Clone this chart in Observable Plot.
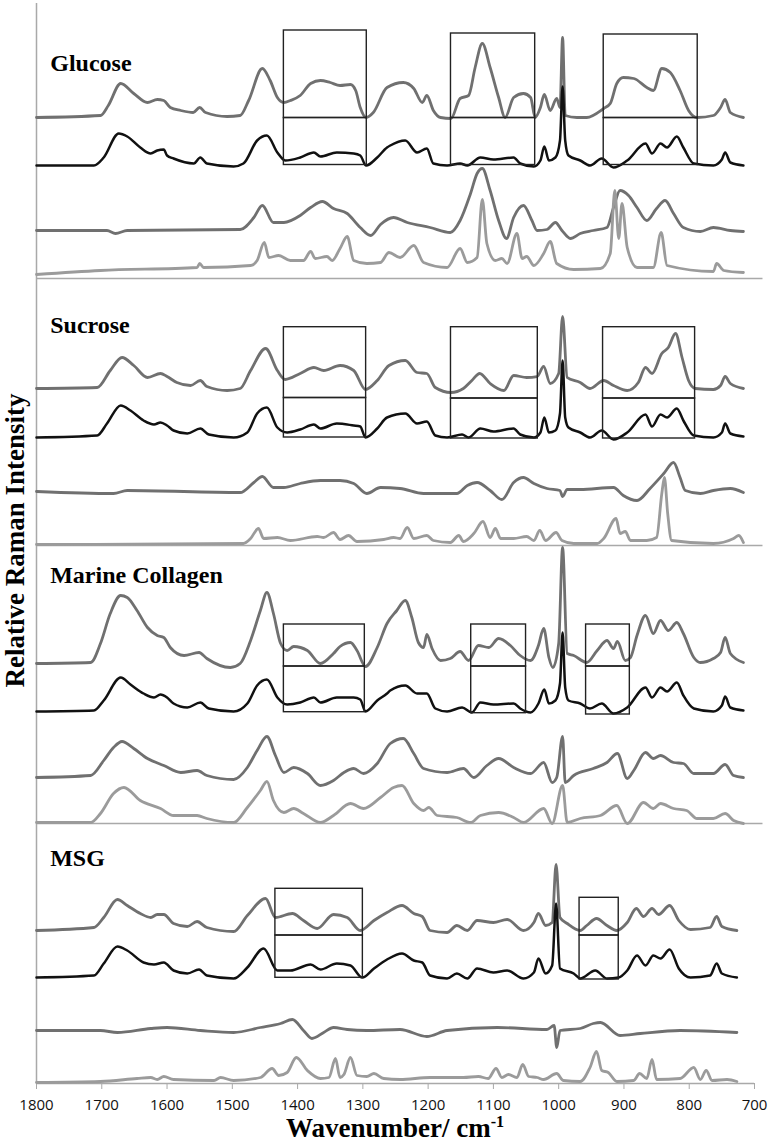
<!DOCTYPE html>
<html><head><meta charset="utf-8">
<script src="https://cdn.jsdelivr.net/npm/d3@7"></script>
<script src="https://cdn.jsdelivr.net/npm/@observablehq/plot@0.6"></script>
<style>
html,body{margin:0;padding:0;background:#fff;}
#wrap{position:relative;width:774px;height:1146px;overflow:hidden;background:#fff;}
#chart{position:absolute;left:0;top:0;}
.ttl{position:absolute;font-family:"Liberation Serif","Times New Roman",serif;font-weight:bold;font-size:27px;line-height:27px;color:#000;white-space:nowrap;}
.ttl sup{font-size:0.6em;line-height:0;vertical-align:0.62em;}
#xt{left:36px;width:718px;text-align:center;top:1115px;}
#yt{left:-285px;width:600px;text-align:center;top:527px;transform:rotate(-90deg);}
</style></head><body>
<div id="wrap"><div id="chart"></div>
<div class="ttl" id="xt">Wavenumber/ cm<sup>-1</sup></div>
<div class="ttl" id="yt">Relative Raman Intensity</div></div>
<script>
// ---------- tick labels / categories ----------
const xTicks = [1800,1700,1600,1500,1400,1300,1200,1100,1000,900,800,700];
const panelNames = ["Glucose","Sucrose","Marine Collagen","MSG"];
const panelLabelY = [1020, 758, 508, 225];
const panelBaseY = [805, 538, 260, 0];
const traceColors = ["#707070","#111111","#707070","#9b9b9b"];

// ---------- stacking offsets of the four spectra in each panel ----------
const glucoseOffsets  = [966, 918, 853, 805];
const sucroseOffsets  = [695, 646, 592, 538];
const collagenOffsets = [420, 372, 306, 260];
const msgOffsets      = [153, 106, 53, 0];

// ---------- spectra: [wavenumber, relative intensity] ----------
const glucoseA = [[1800,0],[1702,2],[1690,12],[1671,34],[1651,24],[1630,15],[1615,18],[1605,17],[1595,10],[1579,7],[1560,5],[1550,10],[1541,5],[1508,1],[1488,2],[1475,17],[1454,49],[1442,37],[1431,20],[1421,15],[1411,17],[1396,22],[1380,34],[1365,37],[1350,35],[1335,32],[1319,33],[1311,27],[1304,10],[1295,0],[1284,5],[1263,30],[1238,35],[1222,29],[1209,15],[1202,22],[1192,7],[1181,0],[1165,-1],[1151,19],[1138,22],[1128,50],[1117,74],[1105,50],[1092,20],[1082,0],[1069,20],[1054,24],[1043,20],[1036,0],[1028,10],[1022,23],[1013,7],[1003,19],[998,10],[994,80],[990,2],[972,0],[957,0],[931,9],[921,14],[911,34],[901,40],[885,39],[865,30],[855,27],[842,49],[829,45],[814,27],[801,7],[788,0],[763,2],[752,10],[745,18],[737,5],[717,0]];
const glucoseB = [[1800,0],[1712,0],[1697,8],[1674,32],[1661,29],[1641,18],[1625,12],[1615,15],[1605,16],[1600,10],[1590,7],[1559,2],[1549,8],[1539,2],[1498,-1],[1483,2],[1462,25],[1447,30],[1431,13],[1419,5],[1396,8],[1375,13],[1365,9],[1340,13],[1314,12],[1304,10],[1295,0],[1278,8],[1263,18],[1258,20],[1235,25],[1217,13],[1202,17],[1192,2],[1171,0],[1151,2],[1140,0],[1120,8],[1100,6],[1069,8],[1059,2],[1038,-1],[1028,5],[1022,19],[1015,5],[1005,8],[998,25],[994,79],[990,25],[985,10],[967,5],[952,0],[934,7],[916,-2],[895,5],[867,22],[857,12],[844,22],[834,18],[819,29],[809,18],[793,2],[763,0],[750,6],[745,13],[737,3],[717,0]];
const glucoseC = [[1800,0],[1692,0],[1679,-3],[1661,0],[1488,1],[1467,13],[1454,25],[1437,8],[1421,8],[1396,15],[1380,23],[1362,29],[1345,22],[1324,17],[1304,3],[1288,-5],[1273,6],[1253,13],[1232,8],[1197,3],[1166,-2],[1151,10],[1135,37],[1125,57],[1117,62],[1105,40],[1092,10],[1080,-8],[1069,13],[1054,25],[1041,10],[1033,0],[1018,1],[1005,8],[995,0],[982,-8],[967,-3],[947,0],[926,3],[916,23],[906,40],[893,35],[880,23],[865,10],[850,22],[837,30],[824,17],[809,3],[783,-1],[763,3],[737,0],[717,-1]];
const glucoseD = [[1800,4],[1702,8],[1554,11],[1550,15],[1544,11],[1472,13],[1462,18],[1451,36],[1444,21],[1429,23],[1411,18],[1391,18],[1380,27],[1373,20],[1355,22],[1347,18],[1335,30],[1324,42],[1314,18],[1294,15],[1273,16],[1260,26],[1243,21],[1222,33],[1207,16],[1171,11],[1151,30],[1140,16],[1125,21],[1117,79],[1110,35],[1097,18],[1087,20],[1079,15],[1064,45],[1056,20],[1049,22],[1038,13],[1023,25],[1013,37],[1003,15],[977,9],[936,10],[921,25],[914,88],[908,40],[903,75],[895,31],[880,11],[855,11],[843,46],[834,13],[763,7],[758,15],[747,8],[717,6]];

const sucroseA = [[1800,0],[1707,1],[1687,18],[1669,31],[1651,23],[1630,11],[1610,15],[1600,12],[1585,6],[1564,3],[1549,8],[1539,2],[1508,-2],[1488,0],[1472,18],[1449,40],[1431,18],[1419,9],[1396,15],[1375,21],[1360,18],[1335,23],[1314,18],[1296,-1],[1278,8],[1260,23],[1235,28],[1217,16],[1202,15],[1189,1],[1165,-4],[1146,0],[1133,8],[1121,15],[1105,5],[1084,-2],[1069,13],[1049,11],[1033,12],[1023,22],[1013,5],[1000,15],[994,72],[987,11],[967,6],[952,0],[931,8],[916,3],[895,-2],[878,6],[867,21],[857,15],[842,35],[832,41],[821,55],[811,31],[801,8],[791,0],[763,-1],[752,3],[745,12],[737,5],[717,0]];
const sucroseB = [[1800,0],[1707,2],[1692,14],[1671,32],[1656,27],[1636,17],[1620,13],[1610,15],[1600,12],[1590,7],[1569,4],[1549,9],[1536,3],[1498,0],[1477,5],[1462,24],[1447,30],[1431,10],[1416,5],[1396,8],[1375,13],[1365,9],[1340,14],[1314,12],[1304,11],[1296,0],[1278,9],[1263,20],[1235,24],[1217,14],[1202,16],[1189,2],[1171,0],[1148,3],[1138,0],[1120,9],[1100,6],[1069,9],[1059,3],[1038,0],[1028,5],[1022,20],[1015,5],[1005,7],[998,24],[994,77],[990,20],[985,10],[967,5],[952,0],[934,7],[916,-2],[895,5],[867,23],[857,11],[844,23],[834,20],[819,29],[809,17],[793,2],[763,0],[750,5],[745,14],[737,4],[717,1]];
const sucroseC = [[1800,0],[1682,-2],[1661,1],[1488,-1],[1467,9],[1454,15],[1437,4],[1421,4],[1396,8],[1365,11],[1335,11],[1314,8],[1294,-2],[1273,4],[1243,3],[1207,-2],[1156,-2],[1140,6],[1125,9],[1105,1],[1087,-8],[1069,9],[1054,14],[1038,8],[1018,3],[998,1],[994,-5],[987,2],[967,2],[916,4],[901,-4],[880,-9],[860,3],[839,18],[824,29],[814,14],[806,1],[783,-2],[763,1],[737,3],[717,-1]];
const sucroseD = [[1800,1],[1483,2],[1472,7],[1460,17],[1452,7],[1431,8],[1411,5],[1370,9],[1360,8],[1345,13],[1335,6],[1322,10],[1309,4],[1268,6],[1253,8],[1243,7],[1232,18],[1222,7],[1202,10],[1192,5],[1166,3],[1153,10],[1146,4],[1130,12],[1116,24],[1105,8],[1097,17],[1089,7],[1069,7],[1049,9],[1038,5],[1029,15],[1020,5],[1004,13],[995,5],[977,2],[941,2],[931,7],[912,27],[906,12],[898,14],[890,5],[865,5],[850,8],[842,52],[838,68],[833,32],[827,5],[763,2],[732,7],[724,10],[717,3]];

const collagenA = [[1800,0],[1717,1],[1702,20],[1687,50],[1671,68],[1661,66],[1646,53],[1630,36],[1615,28],[1605,26],[1595,16],[1574,8],[1551,11],[1539,5],[1503,-4],[1488,0],[1472,23],[1457,53],[1447,71],[1437,50],[1426,20],[1416,13],[1406,17],[1385,13],[1365,0],[1345,10],[1335,17],[1319,21],[1309,13],[1296,-3],[1278,16],[1263,40],[1248,53],[1235,63],[1225,46],[1215,21],[1207,16],[1202,29],[1194,15],[1181,3],[1166,5],[1151,12],[1138,3],[1123,18],[1107,16],[1092,25],[1074,18],[1059,8],[1043,3],[1031,18],[1023,35],[1015,6],[1009,-4],[1000,20],[994,116],[987,10],[977,8],[957,1],[941,13],[926,23],[916,15],[910,22],[898,3],[890,6],[880,28],[867,48],[855,30],[844,43],[832,33],[819,41],[809,30],[793,6],[783,1],[763,5],[752,11],[745,26],[737,10],[717,1]];
const collagenB = [[1800,0],[1712,1],[1697,11],[1671,34],[1656,27],[1636,18],[1620,14],[1610,17],[1600,14],[1590,8],[1569,4],[1549,9],[1536,3],[1498,0],[1477,8],[1462,26],[1447,32],[1431,14],[1416,7],[1396,9],[1375,14],[1365,9],[1340,14],[1314,14],[1304,12],[1296,0],[1278,11],[1263,18],[1258,21],[1235,26],[1217,18],[1202,18],[1189,3],[1171,0],[1148,4],[1133,-1],[1120,9],[1100,7],[1069,8],[1059,3],[1043,-1],[1031,8],[1022,22],[1015,8],[1005,11],[998,28],[994,79],[990,24],[985,11],[967,8],[952,3],[934,8],[916,-2],[895,4],[867,24],[857,14],[844,24],[834,20],[819,29],[809,16],[793,3],[763,0],[750,6],[745,15],[737,4],[717,1]];
const collagenC = [[1800,0],[1717,2],[1697,17],[1682,30],[1669,36],[1651,29],[1630,19],[1605,12],[1579,5],[1554,7],[1539,2],[1498,-2],[1477,10],[1462,27],[1447,41],[1434,22],[1421,5],[1406,10],[1385,4],[1365,-8],[1345,-3],[1329,5],[1314,9],[1299,4],[1278,14],[1258,34],[1238,39],[1222,24],[1207,9],[1171,5],[1146,9],[1130,0],[1110,12],[1092,19],[1069,10],[1043,4],[1023,15],[1010,-5],[1003,0],[994,41],[990,-5],[977,2],[947,9],[926,15],[910,24],[895,-1],[885,7],[867,25],[855,19],[844,22],[824,15],[809,14],[793,4],[763,4],[745,13],[732,2],[717,0]];
const collagenD = [[1800,1],[1717,1],[1702,10],[1682,30],[1666,36],[1641,23],[1610,15],[1590,8],[1554,8],[1539,5],[1498,1],[1477,16],[1457,33],[1447,42],[1437,23],[1421,11],[1406,15],[1391,10],[1365,1],[1345,8],[1319,20],[1299,15],[1273,26],[1253,36],[1240,38],[1222,20],[1207,13],[1199,16],[1186,8],[1156,6],[1135,1],[1120,8],[1092,11],[1069,6],[1054,1],[1023,15],[1010,0],[994,38],[987,1],[967,5],[936,8],[911,18],[895,0],[870,21],[855,15],[844,20],[824,15],[804,13],[788,5],[763,5],[745,10],[732,3],[717,0]];

const msgA = [[1800,0],[1712,3],[1697,13],[1676,31],[1661,25],[1641,17],[1625,13],[1615,16],[1605,16],[1590,7],[1569,4],[1554,9],[1539,3],[1498,-1],[1477,15],[1449,32],[1434,13],[1408,17],[1391,10],[1370,2],[1345,16],[1324,13],[1304,0],[1283,10],[1263,18],[1240,25],[1222,17],[1209,14],[1197,0],[1171,-2],[1156,5],[1140,0],[1125,10],[1100,8],[1079,11],[1054,0],[1038,8],[1031,17],[1020,5],[1010,8],[1004,66],[998,13],[987,7],[967,0],[957,5],[942,12],[926,5],[911,0],[895,8],[881,22],[870,14],[857,22],[847,16],[830,25],[816,10],[798,1],[768,3],[758,14],[750,4],[727,0]];
const msgB = [[1800,0],[1712,2],[1697,14],[1676,31],[1661,27],[1636,15],[1620,13],[1605,15],[1590,7],[1569,4],[1551,8],[1539,2],[1498,-1],[1477,10],[1452,29],[1431,7],[1411,7],[1380,13],[1365,8],[1340,14],[1319,12],[1301,0],[1283,9],[1263,18],[1240,24],[1222,17],[1209,15],[1197,2],[1171,-1],[1156,4],[1140,-1],[1125,9],[1100,5],[1079,7],[1054,-1],[1038,5],[1031,19],[1020,4],[1010,12],[1004,74],[998,9],[977,4],[967,-1],[944,7],[926,-1],[908,0],[895,7],[880,22],[867,12],[855,22],[844,19],[830,28],[816,9],[798,0],[768,2],[758,14],[750,4],[727,0]];
const msgC = [[1800,0],[1702,0],[1676,-2],[1625,2],[1600,3],[1549,0],[1498,-2],[1457,3],[1426,7],[1408,11],[1391,0],[1378,-8],[1360,-2],[1345,3],[1324,1],[1294,0],[1243,1],[1202,-6],[1171,0],[1094,3],[1018,1],[1007,5],[1003,-17],[998,0],[967,2],[947,7],[936,8],[906,-5],[875,-3],[814,0],[727,-2]];
const msgD = [[1800,1],[1702,2],[1646,5],[1625,6],[1615,4],[1605,7],[1590,4],[1528,3],[1518,6],[1498,3],[1457,6],[1439,15],[1429,8],[1416,11],[1402,26],[1385,13],[1365,5],[1352,6],[1342,25],[1335,6],[1329,9],[1319,26],[1309,8],[1294,7],[1283,10],[1268,5],[1243,4],[1197,6],[1163,6],[1146,6],[1123,7],[1108,5],[1096,15],[1087,6],[1077,9],[1064,6],[1055,19],[1046,7],[1033,6],[1023,4],[1003,10],[993,3],[967,2],[952,16],[942,32],[934,13],[924,11],[911,2],[885,3],[876,10],[865,5],[857,24],[850,4],[814,5],[793,16],[783,4],[774,13],[765,3],[742,4],[727,2]];

// ---------- highlight boxes: [wn start, wn end, bottom, middle, top] ----------
const glucoseBoxes  = [[1421,1294,918.5,965.5,1053],[1165,1036,918.5,965.5,1050],[931,787,918.5,965.5,1049]];
const sucroseBoxes  = [[1421,1295,646,685.5,756.3],[1165,1032,645,685,756.3],[932,791,645,685,756.3]];
const collagenBoxes = [[1421,1297,371.3,417,459],[1134,1050,370.3,417,459],[958,891,369,417,459]];
const msgBoxes      = [[1434,1300,105.7,148,194.7],[968,908,104,148,185.7]];

// ---------- build ----------
const panels = [
  {traces:[glucoseA,glucoseB,glucoseC,glucoseD], offsets:glucoseOffsets, boxes:glucoseBoxes},
  {traces:[sucroseA,sucroseB,sucroseC,sucroseD], offsets:sucroseOffsets, boxes:sucroseBoxes},
  {traces:[collagenA,collagenB,collagenC,collagenD], offsets:collagenOffsets, boxes:collagenBoxes},
  {traces:[msgA,msgB,msgC,msgD], offsets:msgOffsets, boxes:msgBoxes}
];

const lineMarks = [];
panels.forEach(p => p.traces.forEach((t, ti) => {
  const rows = t.map(([wn, h]) => ({wn, y: p.offsets[ti] + h}));
  lineMarks.push(Plot.line(rows, {
    x: "wn", y: "y", stroke: traceColors[ti],
    strokeWidth: ti === 1 ? 2.5 : 2.8,
    curve: "monotone-x",
    strokeLinejoin: "round", strokeLinecap: "round"
  }));
}));

const boxRows = panels.flatMap(p => p.boxes.map(([a, b, lo, mid, hi]) => ({a, b, lo, mid, hi})));

const serif = "'Liberation Serif','Times New Roman',serif";
const axisGray = "#a9a9a9";

const chart = Plot.plot({
  width: 774, height: 1120,
  marginLeft: 36, marginRight: 20, marginTop: 3, marginBottom: 37,
  style: {background: "#fff", fontFamily: "'Open Sans', sans-serif", fontSize: "15px", overflow: "visible"},
  x: {domain: [1800, 700], label: null},
  y: {domain: [0, 1080], axis: null},
  marks: [
    Plot.ruleY(panelBaseY.slice(0, 3), {x1: 1800, x2: 687, stroke: axisGray, strokeWidth: 1.5}),
    Plot.ruleY([0], {stroke: axisGray, strokeWidth: 1.5}),
    Plot.ruleX([1800], {y1: 0, y2: 1080, stroke: axisGray, strokeWidth: 1.5}),
    Plot.axisX({ticks: xTicks, tickFormat: d => String(d), tickSize: 6, tickPadding: 10,
                stroke: axisGray, fill: "#111", fontSize: 15, label: null}),
    ...lineMarks,
    Plot.rect(boxRows, {x1: "a", x2: "b", y1: "lo", y2: "mid", fill: "none", stroke: "#222", strokeWidth: 1.4}),
    Plot.rect(boxRows, {x1: "a", x2: "b", y1: "mid", y2: "hi", fill: "none", stroke: "#222", strokeWidth: 1.4}),
    Plot.text(panelNames, {x: 1779, y: (d, i) => panelLabelY[i], text: d => d, textAnchor: "start",
               fontFamily: serif, fontWeight: "bold", fontSize: 24, fill: "#000"})
  ]
});
document.getElementById("chart").appendChild(chart);
</script></body></html>
